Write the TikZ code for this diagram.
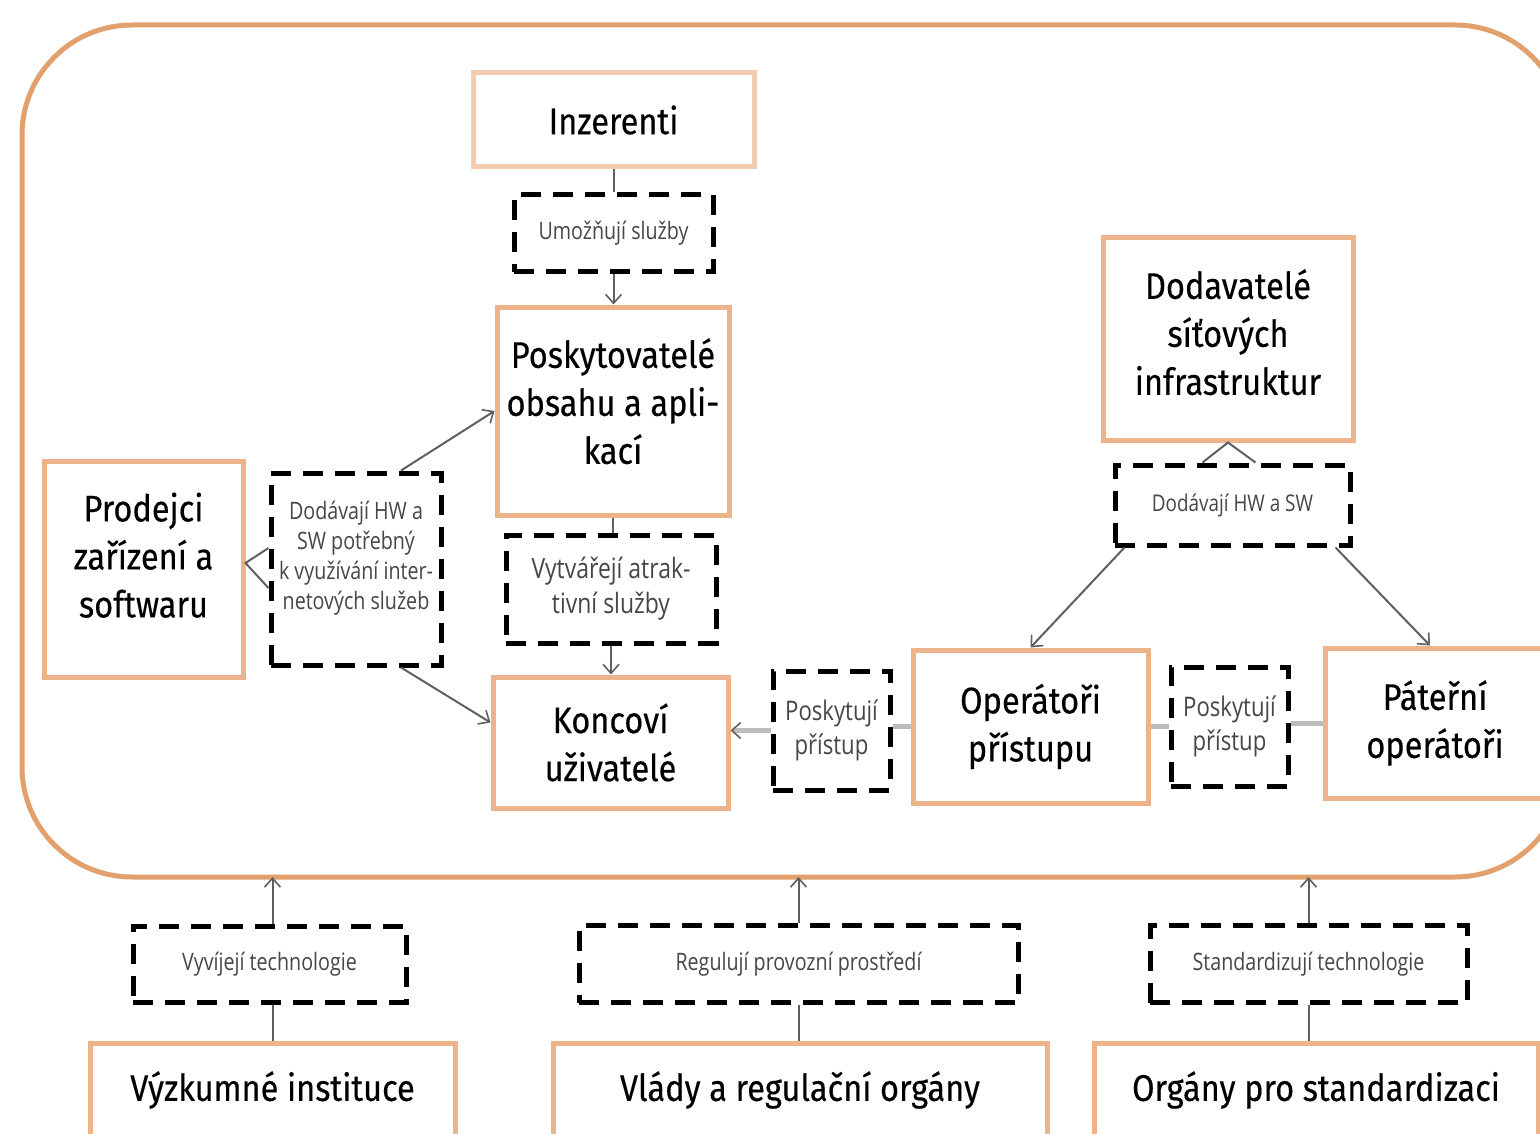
\documentclass[tikz,border=0pt]{standalone}
\usepackage{fontspec}
\setmainfont{Open Sans}[FakeStretch=0.82]
\newfontfamily\bigfont{Fira Sans}[FakeStretch=0.88,FakeBold=0.3]
\usepackage{tikz}
\usetikzlibrary{calc,shapes,arrows.meta}
\definecolor{frameline}{RGB}{226,160,108}
\definecolor{boxline}{RGB}{237,180,140}
\definecolor{inzline}{RGB}{243,204,176}
\definecolor{linkgray}{RGB}{95,95,95}
\definecolor{accgray}{RGB}{188,188,188}
\definecolor{smalltext}{RGB}{70,70,70}

\begin{document}
\begin{tikzpicture}[x=1pt,y=-1pt,
    mainbox/.style={draw=boxline,line width=5pt,fill=white,inner sep=0pt,align=center,
        font=\bigfont\fontsize{37}{48}\selectfont,text=black},
    actbox/.style={draw=black,line width=5pt,dash pattern=on 20pt off 12pt,fill=white,
        inner sep=0pt,align=center,text=smalltext},
    link/.style={draw=linkgray,line width=2pt},
    arr/.style={link,-{Straight Barb[length=9pt,width=16pt,line width=1.6pt]}},
    access/.style={draw=accgray,line width=5pt}]
    \clip (0,0) rectangle (1540,1134);
    \draw[frameline,line width=5pt,rounded corners=110pt] (22,25) rectangle (1565,877);
    \coordinate (framebot) at (0,877);

    \node[mainbox,draw=inzline,minimum width=281,minimum height=94] (inzerenti) at (613.5,120) {Inzerenti};
    \node[actbox,minimum width=199,minimum height=77,font=\fontsize{24}{30}\selectfont] (umoznuji) at (613.5,233.5) {Umožňují služby};
    \node[mainbox,minimum width=232,minimum height=208] (poskyt) at (613,411) {Poskytovatelé\\obsahu a apli-\\kací\\[-28pt]};
    \node[actbox,minimum width=210,minimum height=108,font=\fontsize{28}{35}\selectfont] (vytvareji) at (611,589) {Vytvářejí atrak-\\tivní služby};
    \node[mainbox,minimum width=235,minimum height=131] (koncovi) at (610.5,742.5) {Koncoví\\uživatelé};
    \node[mainbox,minimum width=199,minimum height=216] (prodejci) at (143.5,569) {Prodejci\\zařízení a\\softwaru\\[-20pt]};
    \node[actbox,minimum width=170,minimum height=192,font=\fontsize{24}{30}\selectfont] (dodhw) at (356,569) {Dodávají HW a\\SW potřebný\\k využívání inter-\\netových služeb\\[-2pt]};
    \node[mainbox,minimum width=250,minimum height=202] (dodavatele) at (1228,339) {Dodavatelé\\síťových\\infrastruktur\\[-34pt]};
    \node[actbox,minimum width=235,minimum height=80,font=\fontsize{23}{30}\selectfont] (dodhwsw) at (1232.5,505) {Dodávají HW a SW};
    \node[mainbox,minimum width=235,minimum height=153] (operatori) at (1030.5,726.5) {Operátoři\\přístupu};
    \node[mainbox,minimum width=220,minimum height=150] (pateri) at (1435,723) {Páteřní\\operátoři};
    \node[actbox,minimum width=117,minimum height=119,font=\fontsize{27}{34}\selectfont] (poskA) at (831.5,730.5) {Poskytují\\přístup};
    \node[actbox,minimum width=117,minimum height=119,font=\fontsize{27}{34}\selectfont] (poskB) at (1229.5,726.5) {Poskytují\\přístup};

    \node[actbox,minimum width=273,minimum height=76,font=\fontsize{24}{30}\selectfont] (vyvijeji) at (269.5,964) {Vyvíjejí technologie};
    \node[mainbox,minimum width=365,minimum height=94] (vyzkumne) at (272.5,1090) {Výzkumné instituce};
    \node[actbox,minimum width=439,minimum height=77,font=\fontsize{24}{30}\selectfont] (reguluji) at (798.5,964) {Regulují provozní prostředí};
    \node[mainbox,minimum width=494,minimum height=94] (vlady) at (800,1090) {Vlády a regulační orgány};
    \node[actbox,minimum width=317,minimum height=77,font=\fontsize{24}{30}\selectfont] (standard) at (1308.5,964) {Standardizují technologie};
    \node[mainbox,minimum width=444,minimum height=94] (organy) at (1316,1090) {Orgány pro standardizaci};

    \draw[link] (inzerenti.south) -- (umoznuji.north);
    \draw[arr] (umoznuji.south) -- (umoznuji.south |- poskyt.north);
    \draw[link] (poskyt.south) -- (poskyt.south |- vytvareji.north);
    \draw[arr] (vytvareji.south) -- (vytvareji.south |- koncovi.north);
    \draw[link] ($(dodhw.west)+(0,-21)$) -- ([yshift=6pt]prodejci.east) -- ($(dodhw.west)+(0,19)$);
    \draw[arr] ([xshift=45pt]dodhw.north) -- (poskyt.west);
    \draw[arr] ([xshift=45pt]dodhw.south) -- ([yshift=20pt]koncovi.west);
    \draw[link] ([xshift=-30pt]dodhwsw.north) -- (dodavatele.south) -- ([xshift=23pt]dodhwsw.north);
    \draw[arr] ([xshift=12pt]dodhwsw.south west) -- (operatori.north);
    \draw[arr] ([xshift=-17pt]dodhwsw.south east) -- ([xshift=-5pt]pateri.north);
    \draw[access,-{Straight Barb[length=9pt,width=16pt,line width=1.6pt,color=linkgray]}] (poskA.west) -- (poskA.west -| koncovi.east);
    \draw[access] (operatori.west) -- (operatori.west -| poskA.east);
    \draw[access] (poskB.west) -- (poskB.west -| operatori.east);
    \draw[access] (pateri.west) -- (pateri.west -| poskB.east);

    \draw[link] (vyzkumne.north) -- (vyzkumne.north |- vyvijeji.south);
    \draw[arr] (vyzkumne.north |- vyvijeji.north) -- (vyzkumne.north |- framebot);
    \draw[link] (reguluji.south) -- (reguluji.south |- vlady.north);
    \draw[arr] (reguluji.north) -- (reguluji.north |- framebot);
    \draw[link] (standard.south) -- (standard.south |- organy.north);
    \draw[arr] (standard.north) -- (standard.north |- framebot);
\end{tikzpicture}
\end{document}
